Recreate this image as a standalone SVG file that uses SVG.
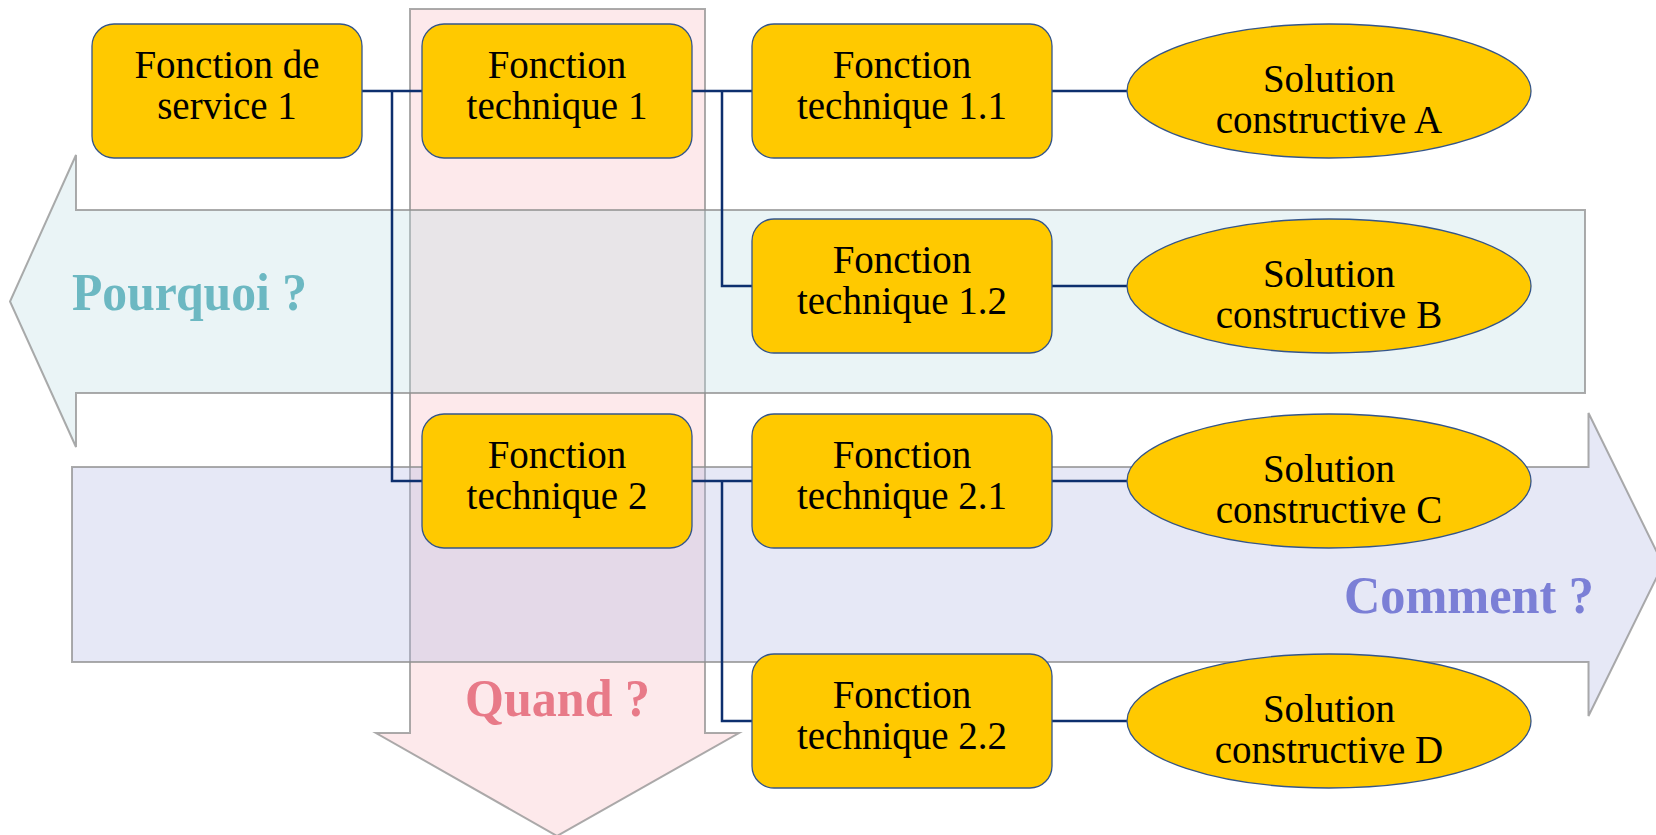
<svg xmlns="http://www.w3.org/2000/svg" width="1656" height="835" viewBox="0 0 1656 835">
  <style>
    .arrow { stroke: #8f8f8f; stroke-width: 2; stroke-opacity: 0.75; }
    .box { fill: #FFC900; stroke: #34558a; stroke-width: 1.3; }
    .lbl { font-family: "Liberation Serif", "Times New Roman", serif; font-size: 39px; fill: #000; text-anchor: middle; }
    .big { font-family: "Liberation Serif", "Times New Roman", serif; font-size: 53px; font-weight: bold; }
    .conn { fill: none; stroke: #0d2f6e; stroke-width: 2.5; }
  </style>
  <rect width="1656" height="835" fill="#ffffff"/>

  <g id="arrows">
    <g id="quand">
      <path class="arrow" d="M410,9 H705 V733 H739 L557,836 L376,733 H410 Z" fill="#f06070" fill-opacity="0.14"/>
      <text class="big" x="465" y="716" fill="#e87a88" textLength="185" lengthAdjust="spacingAndGlyphs">Quand ?</text>
    </g>
    <g id="pourquoi">
      <path class="arrow" d="M76,210 H1585 V393 H76 V447 L10,301.5 L76,155 Z" fill="#bfdde4" fill-opacity="0.33"/>
      <text class="big" x="72" y="310" fill="#6cb8c2" textLength="235" lengthAdjust="spacingAndGlyphs">Pourquoi ?</text>
    </g>
    <g id="comment">
      <path class="arrow" d="M72,467 H1588.5 V413 L1663,564.5 L1588.5,716 V662 H72 Z" fill="#b3b9e4" fill-opacity="0.33"/>
      <text class="big" x="1344" y="613" fill="#7b7fd6" textLength="250" lengthAdjust="spacingAndGlyphs">Comment ?</text>
    </g>
  </g>

  <g id="connectors">
    <path class="conn" d="M362,91 H422"/>
    <path class="conn" d="M392,91 V481 H422"/>
    <path class="conn" d="M692,91 H752"/>
    <path class="conn" d="M722,91 V286 H752"/>
    <path class="conn" d="M692,481 H752"/>
    <path class="conn" d="M722,481 V721 H752"/>
    <path class="conn" d="M1052,91 H1127"/>
    <path class="conn" d="M1052,286 H1127"/>
    <path class="conn" d="M1052,481 H1127"/>
    <path class="conn" d="M1052,721 H1127"/>
  </g>

  <g id="fs1">
    <rect class="box" x="92" y="24" width="270" height="134" rx="22"/>
    <text class="lbl" x="227" y="78">Fonction de</text>
    <text class="lbl" x="227" y="119">service 1</text>
  </g>
  <g id="ft1">
    <rect class="box" x="422" y="24" width="270" height="134" rx="22"/>
    <text class="lbl" x="557" y="78">Fonction</text>
    <text class="lbl" x="557" y="119">technique 1</text>
  </g>
  <g id="ft2">
    <rect class="box" x="422" y="414" width="270" height="134" rx="22"/>
    <text class="lbl" x="557" y="468">Fonction</text>
    <text class="lbl" x="557" y="509">technique 2</text>
  </g>
  <g id="ft11">
    <rect class="box" x="752" y="24" width="300" height="134" rx="22"/>
    <text class="lbl" x="902" y="78">Fonction</text>
    <text class="lbl" x="902" y="119">technique 1.1</text>
  </g>
  <g id="ft12">
    <rect class="box" x="752" y="219" width="300" height="134" rx="22"/>
    <text class="lbl" x="902" y="273">Fonction</text>
    <text class="lbl" x="902" y="314">technique 1.2</text>
  </g>
  <g id="ft21">
    <rect class="box" x="752" y="414" width="300" height="134" rx="22"/>
    <text class="lbl" x="902" y="468">Fonction</text>
    <text class="lbl" x="902" y="509">technique 2.1</text>
  </g>
  <g id="ft22">
    <rect class="box" x="752" y="654" width="300" height="134" rx="22"/>
    <text class="lbl" x="902" y="708">Fonction</text>
    <text class="lbl" x="902" y="749">technique 2.2</text>
  </g>
  <g id="scA">
    <ellipse class="box" cx="1329" cy="91" rx="202" ry="67"/>
    <text class="lbl" x="1329" y="92">Solution</text>
    <text class="lbl" x="1329" y="133">constructive A</text>
  </g>
  <g id="scB">
    <ellipse class="box" cx="1329" cy="286" rx="202" ry="67"/>
    <text class="lbl" x="1329" y="287">Solution</text>
    <text class="lbl" x="1329" y="328">constructive B</text>
  </g>
  <g id="scC">
    <ellipse class="box" cx="1329" cy="481" rx="202" ry="67"/>
    <text class="lbl" x="1329" y="482">Solution</text>
    <text class="lbl" x="1329" y="523">constructive C</text>
  </g>
  <g id="scD">
    <ellipse class="box" cx="1329" cy="721" rx="202" ry="67"/>
    <text class="lbl" x="1329" y="722">Solution</text>
    <text class="lbl" x="1329" y="763">constructive D</text>
  </g>
</svg>
